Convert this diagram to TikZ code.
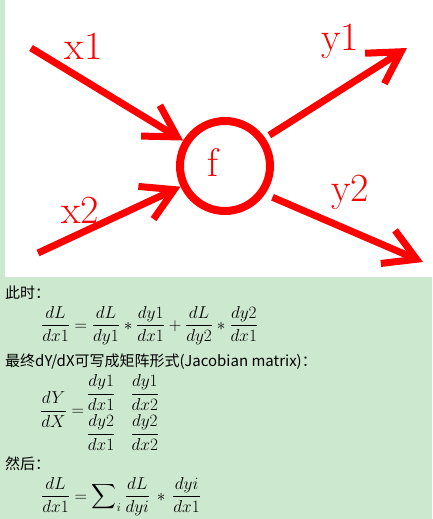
\documentclass[tikz,border=0pt]{standalone}
\usepackage{amsmath}
\usepackage{fontspec}
\usepackage{xcolor}
\usepackage{tikz}
\usetikzlibrary{matrix,arrows.meta,positioning}
\newfontfamily\cjk{Noto Sans CJK SC}
\definecolor{eyegreen}{RGB}{204,232,207}
\tikzset{
  io/.style={draw=red,line width=7pt,->,>={Straight Barb[angle=60:36pt,sharp]}},
  iolabel/.style={red,inner sep=0pt,font=\fontsize{40}{40}\selectfont},
  txt/.style={anchor=base west,inner sep=0pt,font=\cjk\fontsize{15}{18}\selectfont},
  eq/.style={anchor=base west,inner sep=0pt,font=\fontsize{16.5}{20}\selectfont},
}

\begin{document}
\begin{tikzpicture}[x=1pt,y=-1pt]
\useasboundingbox (0,0) rectangle (432,519);
\fill[eyegreen] (0,0) rectangle (432,519);
\fill[white] (5,0) rectangle (432,277);
\node[circle,draw=red,line width=8pt,minimum size=90pt,inner sep=0pt] (f) at (225,166) {};
\node[iolabel] (flab) at (213.5,162) {f};
\coordinate (x1) at (31,48);
\coordinate (x2) at (38,253);
\coordinate (y1) at (407,48);
\coordinate (y2) at (423,262);
\path (x1) edge[io] (f) (x2) edge[io] (f);
\path (f.35) edge[io,shorten <=5pt] (y1) (f.-35) edge[io,shorten <=8pt] (y2);
\node[iolabel] (x1lab) at (83.5,46.5) {x1};
\node[iolabel] (x2lab) at (80,210) {x2};
\node[iolabel] (y1lab) at (340,41) {y1};
\node[iolabel] (y2lab) at (350,192.5) {y2};
\node[txt] (now) at (5,298) {此时：};
\node[eq] (chain) at (41,330) {$\dfrac{dL}{dx1}=\dfrac{dL}{dy1}\ast\dfrac{dy1}{dx1}+\dfrac{dL}{dy2}\ast\dfrac{dy2}{dx1}$};
\node[txt] (final) at (5,366) {最终dY/dX可写成矩阵形式(Jacobian matrix)：};
\node[eq] (dydx) at (40,415.25) {$\dfrac{dY}{dX}=$};
\matrix (jac) [matrix of math nodes, row sep=4pt, column sep=15pt,
nodes={inner sep=0pt,font=\fontsize{16.5}{20}\selectfont}] at (123,412.5)
{\dfrac{dy1}{dx1}&\dfrac{dy1}{dx2}\\
\dfrac{dy2}{dx1}&\dfrac{dy2}{dx2}\\};
\node[txt] (then) at (5,469) {然后：};
\node[eq] (sum) at (41,501) {$\displaystyle\frac{dL}{dx1}=\sum\nolimits_i\frac{dL}{dyi}\,\ast\,\frac{dyi}{dx1}$};
\end{tikzpicture}
\end{document}
